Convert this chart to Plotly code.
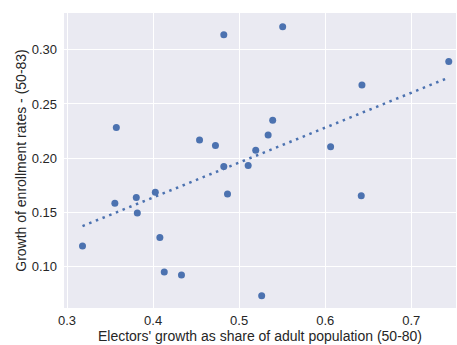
import numpy as np
import plotly.graph_objects as go

electors_growth = [0.318, 0.3556, 0.3573, 0.3805, 0.3817, 0.4026, 0.4079, 0.413, 0.433,
                   0.454, 0.4725, 0.4822, 0.4822, 0.4865, 0.5105, 0.5193, 0.5262, 0.5337,
                   0.539, 0.5506, 0.6063, 0.6427, 0.6419, 0.7436]
enrollment_growth = [0.119, 0.1585, 0.2283, 0.1637, 0.1496, 0.1687, 0.1268, 0.0951, 0.0923,
                     0.2167, 0.2117, 0.3138, 0.1923, 0.167, 0.1932, 0.2074, 0.0733, 0.2215,
                     0.2351, 0.3212, 0.2105, 0.2674, 0.1655, 0.2892]
x_ticks = [0.3, 0.4, 0.5, 0.6, 0.7]
y_ticks = [0.10, 0.15, 0.20, 0.25, 0.30]

x = np.array(electors_growth)
y = np.array(enrollment_growth)
slope, intercept = np.polyfit(x, y, 1)
fit_x = np.array([x.min(), x.max()])
fit_y = slope * fit_x + intercept

blue = "#4C72B0"
font = "Liberation Sans, Arial, sans-serif"

fig = go.Figure()
fig.add_trace(go.Scatter(x=x, y=y, mode="markers",
                         marker=dict(color=blue, size=7, line=dict(width=0)),
                         showlegend=False))
fig.add_trace(go.Scatter(x=fit_x, y=fit_y, mode="lines",
                         line=dict(color=blue, width=2.5, dash="2.5px,4.7px"),
                         showlegend=False))

fig.update_layout(
    width=457, height=345,
    margin=dict(l=64, r=1, t=13, b=37),
    paper_bgcolor="white", plot_bgcolor="#EAEAF2",
    font=dict(family=font, color="#262626", size=13),
    xaxis=dict(range=[0.2965, 0.752], tickvals=x_ticks, ticktext=["0.3", "0.4", "0.5", "0.6", "0.7"],
               showgrid=True, gridcolor="white", gridwidth=1.2, zeroline=False, showline=False,
               ticks="", ticklabelstandoff=3, tickfont=dict(size=13),
               title=dict(text="Electors' growth as share of adult population (50-80)",
                          font=dict(size=14), standoff=0)),
    yaxis=dict(range=[0.0619, 0.3339], tickvals=y_ticks, ticktext=["0.10", "0.15", "0.20", "0.25", "0.30"],
               showgrid=True, gridcolor="white", gridwidth=1.2, zeroline=False, showline=False,
               ticks="", ticklabelstandoff=6, tickfont=dict(size=13),
               title=dict(text="Growth of enrollment rates - (50-83)",
                          font=dict(size=14), standoff=1)),
)

fig.write_html("out.html", config={"displayModeBar": False},
               post_script="document.body.style.margin='0';document.body.style.overflow='hidden';")
